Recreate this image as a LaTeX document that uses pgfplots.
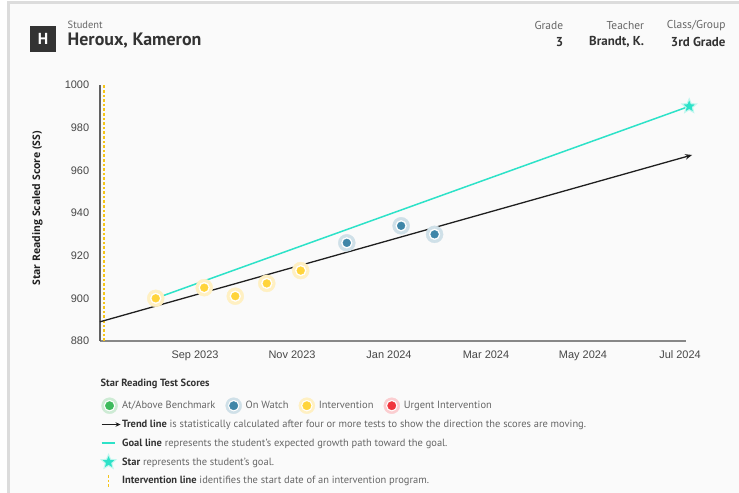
\documentclass[border=0pt]{standalone}
\usepackage{fontspec}
\setmainfont{PT Sans}
\newfontfamily\tickfont{Liberation Sans}
\newfontfamily\labfont{Open Sans}
\usepackage{pgfplots}
\usepackage{pgfplotstable}
\pgfplotsset{compat=1.18}
\usetikzlibrary{arrows.meta}

\definecolor{bgc}{HTML}{FAFAFA}
\definecolor{framec}{HTML}{DCDCDC}
\definecolor{hdark}{HTML}{333333}
\definecolor{txtgray}{HTML}{666666}
\definecolor{txtdark}{HTML}{333333}
\definecolor{goalc}{HTML}{2DE2C8}
\definecolor{intc}{HTML}{F5C518}
\definecolor{ydot}{HTML}{FFD43B}
\definecolor{yhalo}{HTML}{FFF0C2}
\definecolor{bdot}{HTML}{3F86A8}
\definecolor{bhalo}{HTML}{CFE0E8}
\definecolor{gdot}{HTML}{3DBA5C}
\definecolor{ghalo}{HTML}{CDEBD4}
\definecolor{rdot}{HTML}{F0353D}
\definecolor{rhalo}{HTML}{FBCDD0}

% filled five-pointed star
\pgfdeclareplotmark{fstar}{%
  \pgfpathmoveto{\pgfpointpolar{90}{\pgfplotmarksize}}%
  \pgfpathlineto{\pgfpointpolar{126}{0.45\pgfplotmarksize}}%
  \pgfpathlineto{\pgfpointpolar{162}{\pgfplotmarksize}}%
  \pgfpathlineto{\pgfpointpolar{198}{0.45\pgfplotmarksize}}%
  \pgfpathlineto{\pgfpointpolar{234}{\pgfplotmarksize}}%
  \pgfpathlineto{\pgfpointpolar{270}{0.45\pgfplotmarksize}}%
  \pgfpathlineto{\pgfpointpolar{306}{\pgfplotmarksize}}%
  \pgfpathlineto{\pgfpointpolar{342}{0.45\pgfplotmarksize}}%
  \pgfpathlineto{\pgfpointpolar{18}{\pgfplotmarksize}}%
  \pgfpathlineto{\pgfpointpolar{54}{0.45\pgfplotmarksize}}%
  \pgfpathclose\pgfusepathqfill}

% months since Sep 2023, scaled score
\pgfplotstableread{
m ss
-0.81 900
0.19 905
0.83 901
1.48 907
2.18 913
}\intervention
\pgfplotstableread{
m ss
3.13 926
4.25 934
4.94 930
}\onwatch

\begin{document}
\begin{tikzpicture}[x=1bp,y=1bp]
\useasboundingbox (0,0) rectangle (739,493);
\fill[white] (0,0) rectangle (739,493);
\fill[bgc] (8.5,-20) rectangle (760,490.5);
\draw[framec, line width=3bp] (8.5,-20) -- (8.5,490.5) -- (760,490.5);

% header
\fill[hdark] (30,441) rectangle (56,467);
\node[text=white, font=\bfseries\fontsize{16}{16}\selectfont] at (43,454) {H};
\node[anchor=west, inner sep=0pt, text=txtgray, font=\fontsize{10.5}{12}\selectfont] at (67.5,468) {Student};
\node[anchor=west, inner sep=0pt, text=txtdark, font=\bfseries\fontsize{18}{20}\selectfont] at (67.5,452.3) {Heroux, Kameron};
\begin{scope}[every node/.style={anchor=east, inner sep=0pt}]
\node[text=txtgray, font=\fontsize{11.5}{13}\selectfont] at (563.3,467.3) {Grade};
\node[text=txtdark, font=\bfseries\fontsize{13}{15}\selectfont] at (563.3,450.7) {3};
\node[text=txtgray, font=\fontsize{11.5}{13}\selectfont] at (644.3,467.3) {Teacher};
\node[text=txtdark, font=\bfseries\fontsize{13}{15}\selectfont] at (644.3,450.7) {Brandt, K.};
\node[text=txtgray, font=\fontsize{11.5}{13}\selectfont] at (725.7,467.3) {Class/Group};
\node[text=txtdark, font=\bfseries\fontsize{13}{15}\selectfont] at (725.7,450.7) {3rd Grade};
\end{scope}

% legend title
\node[anchor=west, inner sep=0pt, text=txtdark, font=\bfseries\fontsize{10.5}{12}\selectfont] at (100.5,109) {Star Reading Test Scores};

\begin{axis}[
  at={(100bp,152bp)}, anchor=south west,
  scale only axis, width=586bp, height=256bp,
  xmin=-1.959, xmax=10.124, ymin=880, ymax=1000,
  axis lines=left, axis line style={-},
  x axis line style={draw=black!47, line width=1.2bp},
  y axis line style={draw=black!62, line width=1.3bp},
  tick style={draw=none},
  xtick={0,2,4,6,8,10},
  xticklabels={Sep 2023,Nov 2023,Jan 2024,Mar 2024,May 2024,Jul 2024},
  ytick={880,900,...,1000},
  /pgf/number format/assume math mode=true,
  /pgf/number format/1000 sep={},
  ticklabel style={font=\tickfont\fontsize{11}{13}\selectfont, text=black!72},
  yticklabel style={inner sep=0pt, xshift=-8.5bp},
  xticklabel style={inner sep=0pt, yshift=-7.5bp},
  ylabel={Star Reading Scaled Score (SS)},
  ylabel style={font=\labfont\bfseries\fontsize{10.5}{12}\selectfont, text=black!88,
    at={(axis description cs:-0.107,0.518)}, anchor=center},
  clip=false,
  legend cell align=left,
  legend columns=4,
  legend style={at={(axis description cs:0,-0.2176)}, anchor=north west,
    draw=none, fill=none, inner sep=0pt, outer sep=0pt,
    font=\fontsize{10.5}{12}\selectfont, text=txtgray,
    column sep=0pt, row sep=0.8bp,
    nodes={inner sep=1bp},
    /tikz/every even column/.append style={column sep=9bp}},
]
% intervention start
\addplot[intc, line width=1.3bp, dash pattern=on 2.6bp off 2bp, forget plot]
  coordinates {(-1.876,880) (-1.876,1000)};

% test scores
\addplot[only marks, mark=*, mark size=8.5bp, yhalo, forget plot] table {\intervention};
\addplot[only marks, mark=*, mark size=5.4bp, white, forget plot] table {\intervention};
\addplot[only marks, mark=*, mark size=3.9bp, ydot, forget plot] table {\intervention};
\addplot[only marks, mark=*, mark size=8.5bp, bhalo, forget plot] table {\onwatch};
\addplot[only marks, mark=*, mark size=5.4bp, white, forget plot] table {\onwatch};
\addplot[only marks, mark=*, mark size=3.9bp, bdot, forget plot] table {\onwatch};

% trend line
\addplot[black!88, line width=1.3bp, -{Stealth[length=7bp,width=5.5bp]}, forget plot]
  coordinates {(-1.959,889) (10.25,967.2)};
% goal line and goal star
\addplot[goalc, line width=1.5bp, forget plot] coordinates {(-0.81,900) (10.19,990)};
\addplot[only marks, mark=fstar, mark size=9bp, mark options={fill=goalc!30}, forget plot]
  coordinates {(10.19,990)};
\addplot[only marks, mark=fstar, mark size=5.8bp, mark options={fill=goalc}, forget plot]
  coordinates {(10.19,990)};

% legend
\addlegendimage{legend image code/.code={\path[draw=none,fill=none] (0bp,-9bp) rectangle (19bp,9bp);
  \fill[ghalo] (8bp,0) circle (8bp); \fill[white] (8bp,0) circle (5.5bp); \fill[gdot] (8bp,0) circle (4.2bp);}}
\addlegendentry{At/Above Benchmark}
\addlegendimage{legend image code/.code={\path[draw=none,fill=none] (0bp,-9bp) rectangle (19bp,9bp);
  \fill[bhalo] (8bp,0) circle (8bp); \fill[white] (8bp,0) circle (5.5bp); \fill[bdot] (8bp,0) circle (4.2bp);}}
\addlegendentry{On Watch}
\addlegendimage{legend image code/.code={\path[draw=none,fill=none] (0bp,-9bp) rectangle (19bp,9bp);
  \fill[yhalo] (8bp,0) circle (8bp); \fill[white] (8bp,0) circle (5.5bp); \fill[ydot] (8bp,0) circle (4.2bp);}}
\addlegendentry{Intervention}
\addlegendimage{legend image code/.code={\path[draw=none,fill=none] (0bp,-9bp) rectangle (19bp,9bp);
  \fill[rhalo] (8bp,0) circle (8bp); \fill[white] (8bp,0) circle (5.5bp); \fill[rdot] (8bp,0) circle (4.2bp);}}
\addlegendentry{Urgent Intervention}

\addlegendimage{legend image code/.code={\path[draw=none,fill=none] (0bp,-9bp) rectangle (19bp,9bp);
  \draw[black!88, line width=1.2bp, -{Stealth[length=5bp,width=4.5bp]}] (0bp,0) -- (19bp,0);}}
\addlegendentry{\makebox[0pt][l]{\textcolor{txtdark}{\bfseries Trend line} is statistically calculated after four or more tests to show the direction the scores are moving.}}
\addlegendimage{empty legend}\addlegendentry{}
\addlegendimage{empty legend}\addlegendentry{}
\addlegendimage{empty legend}\addlegendentry{}

\addlegendimage{legend image code/.code={\path[draw=none,fill=none] (0bp,-9bp) rectangle (19bp,9bp);
  \draw[goalc, line width=1.8bp] (0bp,0) -- (13bp,0);}}
\addlegendentry{\makebox[0pt][l]{\textcolor{txtdark}{\bfseries Goal line} represents the student's expected growth path toward the goal.}}
\addlegendimage{empty legend}\addlegendentry{}
\addlegendimage{empty legend}\addlegendentry{}
\addlegendimage{empty legend}\addlegendentry{}

\addlegendimage{legend image code/.code={\path[draw=none,fill=none] (0bp,-9bp) rectangle (19bp,9bp);
  \path plot[mark=fstar, mark size=9bp, mark options={fill=goalc!30}] coordinates {(7bp,0bp)};
  \path plot[mark=fstar, mark size=6bp, mark options={fill=goalc}] coordinates {(7bp,0bp)};}}
\addlegendentry{\makebox[0pt][l]{\textcolor{txtdark}{\bfseries Star} represents the student's goal.}}
\addlegendimage{empty legend}\addlegendentry{}
\addlegendimage{empty legend}\addlegendentry{}
\addlegendimage{empty legend}\addlegendentry{}

\addlegendimage{legend image code/.code={\path[draw=none,fill=none] (0bp,-9bp) rectangle (19bp,9bp);
  \draw[intc, line width=1.3bp, dash pattern=on 2.6bp off 2bp] (7bp,-6bp) -- (7bp,6bp);}}
\addlegendentry{\makebox[0pt][l]{\textcolor{txtdark}{\bfseries Intervention line} identifies the start date of an intervention program.}}
\end{axis}
\end{tikzpicture}
\end{document}
